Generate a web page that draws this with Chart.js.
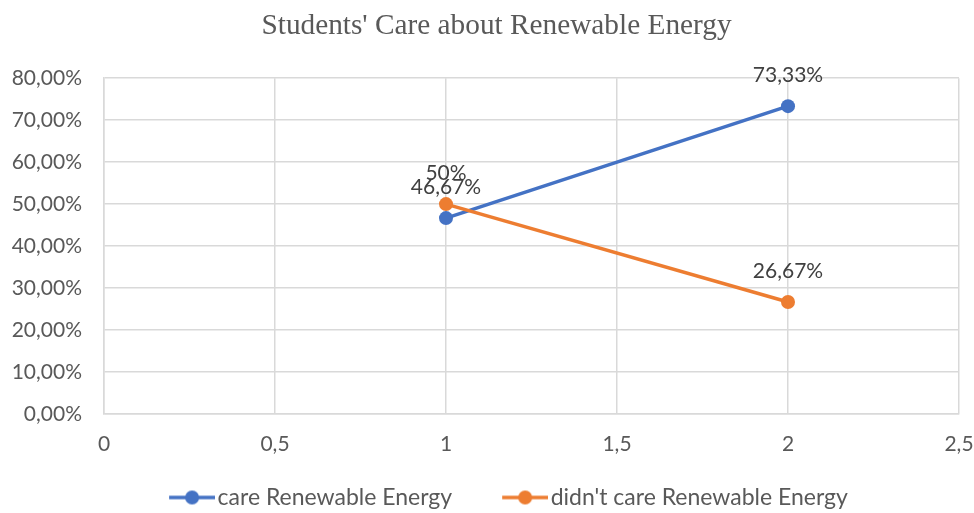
<!DOCTYPE html>
<html>
<head>
<meta charset="utf-8">
<script src="https://cdn.jsdelivr.net/npm/chart.js@4"></script>
<style>
  html, body { margin: 0; padding: 0; background: #fff; }
  #wrap { width: 974px; height: 513px; }
</style>
</head>
<body>
<div id="wrap"><canvas id="chart" width="974" height="513"></canvas></div>
<script>
// data
const seriesNames = ["care Renewable Energy", "didn't care Renewable Energy"];
const xValues = [1, 2];
const careValues = [46.67, 73.33];
const notCareValues = [50, 26.67];
const seriesColors = ["#4472C4", "#ED7D31"];

const tickFont = { family: "Lato", size: 21 };
const legendFont = { family: "Lato", size: 23 };
const textGray = "#595959";

// legend swatch geometry: blank gap before the line, then a 46px line with a dot
const GAP = 43;
const LINE = 46;
const OVER = 9;
const BOX_W = GAP + LINE - OVER;

// format numbers the way the sheet does (comma decimal)
function pct(v, fixed) {
  if (!fixed && Number.isInteger(v)) return v + "%";
  return v.toFixed(2).replace(".", ",") + "%";
}

// line + dot swatch, drawn so it sits right of the blank gap
function swatch(color) {
  const c = document.createElement("canvas");
  c.width = BOX_W + 2 * OVER;
  c.height = 16;
  const ctx = c.getContext("2d");
  const x0 = GAP + OVER;
  ctx.strokeStyle = color;
  ctx.lineWidth = 3.5;
  ctx.beginPath();
  ctx.moveTo(x0, 8);
  ctx.lineTo(x0 + LINE, 8);
  ctx.stroke();
  ctx.fillStyle = color;
  ctx.beginPath();
  ctx.arc(x0 + LINE / 2, 8, 7, 0, Math.PI * 2);
  ctx.fill();
  return c;
}
const swatches = seriesColors.map(swatch);

// labels above each point
const pointLabels = {
  id: "pointLabels",
  afterLayout(chart) {
    // the title sits a little right of centre in the original
    if (chart.titleBlock) chart.titleBlock.left += 19;
  },
  afterDatasetsDraw(chart) {
    const ctx = chart.ctx;
    ctx.save();
    ctx.font = "21px Lato";
    ctx.fillStyle = "#404040";
    ctx.textAlign = "center";
    ctx.textBaseline = "middle";
    chart.data.datasets.forEach(function (ds, i) {
      const meta = chart.getDatasetMeta(i);
      meta.data.forEach(function (pt, j) {
        ctx.fillText(pct(ds.data[j].y), pt.x, pt.y - 31);
      });
    });
    ctx.restore();
  }
};

const datasets = [careValues, notCareValues].map(function (vals, i) {
  return {
    label: seriesNames[i],
    data: vals.map(function (v, j) { return { x: xValues[j], y: v }; }),
    borderColor: seriesColors[i],
    backgroundColor: seriesColors[i],
    borderWidth: 3.5,
    pointRadius: 7,
    pointHoverRadius: 7,
    pointBorderWidth: 0,
    showLine: true,
    order: i === 0 ? 1 : 0
  };
});

new Chart(document.getElementById("chart"), {
  type: "scatter",
  data: { datasets: datasets },
  options: {
    responsive: false,
    animation: false,
    layout: { padding: { left: 0, right: 0, top: 0, bottom: -6 } },
    plugins: {
      title: {
        display: true,
        text: "Students' Care about Renewable Energy",
        color: textGray,
        font: { family: "Liberation Serif", size: 29.3, weight: "normal" },
        padding: { top: 9, bottom: 34 }
      },
      legend: {
        position: "bottom",
        labels: {
          usePointStyle: true,
          pointStyleWidth: BOX_W,
          color: textGray,
          font: legendFont,
          padding: 7,
          generateLabels: function (chart) {
            const items = Chart.defaults.plugins.legend.labels.generateLabels(chart);
            items.sort(function (a, b) { return a.datasetIndex - b.datasetIndex; });
            items.forEach(function (it) { it.pointStyle = swatches[it.datasetIndex]; });
            return items;
          }
        }
      },
      tooltip: { enabled: false }
    },
    scales: {
      x: {
        type: "linear",
        min: 0,
        max: 2.5,
        ticks: {
          stepSize: 0.5,
          color: textGray,
          font: tickFont,
          padding: 18,
          callback: function (v) { return String(v).replace(".", ","); }
        },
        grid: { color: "#D9D9D9", lineWidth: 1.5, drawTicks: false },
        border: { color: "#D9D9D9", width: 1.5 },
        afterFit: function (s) {
          s.height = 65;
          s.paddingLeft = 0;
          s.paddingRight = 15;
        }
      },
      y: {
        min: 0,
        max: 80,
        ticks: {
          stepSize: 10,
          color: textGray,
          font: tickFont,
          padding: 22,
          callback: function (v) { return pct(v, true); }
        },
        grid: { color: "#D9D9D9", lineWidth: 1.5, drawTicks: false },
        border: { color: "#D9D9D9", width: 1.5 },
        afterFit: function (s) { s.width = 104; }
      }
    }
  },
  plugins: [pointLabels]
});
</script>
</body>
</html>
